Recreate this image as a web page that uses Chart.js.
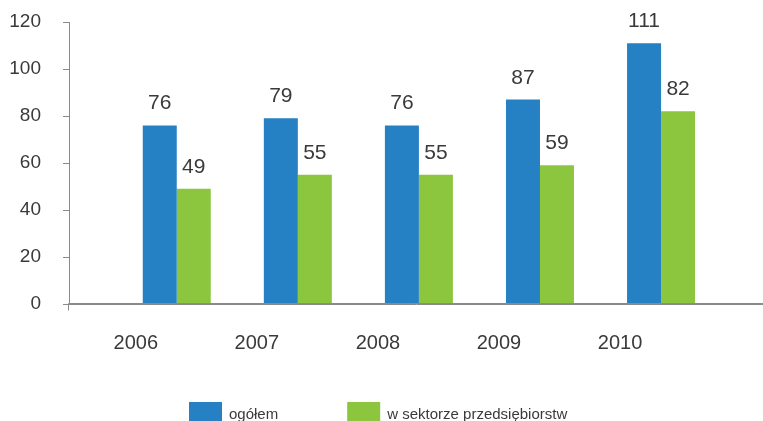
<!DOCTYPE html>
<html><head><meta charset="utf-8">
<script src="https://cdn.jsdelivr.net/npm/chart.js@4.4.1/dist/chart.umd.min.js"></script>
<style>html,body{margin:0;padding:0;background:#fff}#wrap{width:763px;height:421px}</style>
</head><body><div id="wrap"><canvas id="c" width="763" height="421"></canvas></div>
<script>
const years = ['2006', '2007', '2008', '2009', '2010'];
const seriesNames = ['ogółem', 'w sektorze przedsiębiorstw'];
const ogolem = [76, 79, 76, 87, 111];
const sektor = [49, 55, 55, 59, 82];
const yTicks = [0, 20, 40, 60, 80, 100, 120];

const FONT = "'Liberation Sans', Arial, sans-serif";
const TXT = '#3a3a3a';
const AXIS = '#8a8a8a';
const COLORS = ['#2581c4', '#8cc63f'];
const X_MIN = -0.89, X_MAX = 4.842;

const toPts = arr => arr.map((v, i) => ({x: i, y: v}));

const baseLine = {
  id: 'baseLine',
  afterDraw(chart) {
    const ctx = chart.ctx, a = chart.chartArea;
    const y0 = Math.round(chart.scales.y.getPixelForValue(0)) - 0.5;
    const xl = Math.round(a.left) - 0.5;
    ctx.save();
    ctx.strokeStyle = AXIS;
    ctx.lineWidth = 1;
    ctx.beginPath();
    ctx.moveTo(xl, y0);
    ctx.lineTo(a.right, y0);
    ctx.moveTo(xl, y0);
    ctx.lineTo(xl, y0 + 7);
    ctx.stroke();
    ctx.restore();
  }
};

const valueLabels = {
  id: 'valueLabels',
  afterDatasetsDraw(chart) {
    const ctx = chart.ctx;
    ctx.save();
    ctx.font = '21px ' + FONT;
    ctx.fillStyle = TXT;
    ctx.textAlign = 'center';
    ctx.textBaseline = 'alphabetic';
    chart.data.datasets.forEach((ds, di) => {
      const meta = chart.getDatasetMeta(di);
      meta.data.forEach((el, i) => {
        ctx.fillText(String(ds.data[i].y), el.x, el.y - 16);
      });
    });
    ctx.restore();
  }
};

const customLegend = {
  id: 'customLegend',
  afterDraw(chart) {
    const ctx = chart.ctx;
    ctx.save();
    ctx.font = '15px ' + FONT;
    ctx.textBaseline = 'alphabetic';
    ctx.textAlign = 'left';
    let x = 189;
    chart.data.datasets.forEach(ds => {
      ctx.fillStyle = ds.backgroundColor;
      ctx.fillRect(x, 402, 33, 22);
      ctx.fillStyle = TXT;
      ctx.fillText(ds.label, x + 40, 419);
      x += 40 + ctx.measureText(ds.label).width + 69;
    });
    ctx.restore();
  }
};

new Chart(document.getElementById('c'), {
  type: 'bar',
  data: {
    datasets: [
      {label: seriesNames[0], data: toPts(ogolem), backgroundColor: COLORS[0]},
      {label: seriesNames[1], data: toPts(sektor), backgroundColor: COLORS[1]}
    ]
  },
  options: {
    responsive: false,
    animation: false,
    devicePixelRatio: 1,
    layout: {padding: {top: 22, left: 0, right: 0, bottom: 0}},
    datasets: {bar: {categoryPercentage: 0.5617, barPercentage: 1}},
    plugins: {legend: {display: false}, tooltip: {enabled: false}},
    scales: {
      x: {
        type: 'linear',
        offset: false,
        bounds: 'data',
        min: X_MIN,
        max: X_MAX,
        afterDataLimits: s => { s.min = X_MIN; s.max = X_MAX; },
        afterBuildTicks: s => { s.ticks = years.map((_, i) => ({value: i})); s.min = X_MIN; s.max = X_MAX; },
        afterFit: s => { s.height = 117; s.paddingLeft = 0; s.paddingRight = 0; },
        grid: {display: false, drawTicks: false, offset: false},
        border: {display: true, color: AXIS, width: 1},
        ticks: {
          autoSkip: false, maxRotation: 0,
          labelOffset: -41,
          padding: 27,
          color: TXT,
          font: {family: FONT, size: 20},
          callback: v => years[v] ?? ''
        }
      },
      y: {
        min: 0, max: 120,
        afterBuildTicks: s => { s.ticks = yTicks.map(v => ({value: v})); },
        afterFit: s => { s.width = 69; s.paddingTop = 0; s.paddingBottom = 0; },
        grid: {drawOnChartArea: false, drawTicks: true, tickLength: 6, color: AXIS},
        border: {display: true, color: AXIS, width: 1},
        ticks: {padding: 22, color: TXT, font: {family: FONT, size: 19}}
      }
    }
  },
  plugins: [baseLine, valueLabels, customLegend]
});
</script></body></html>
